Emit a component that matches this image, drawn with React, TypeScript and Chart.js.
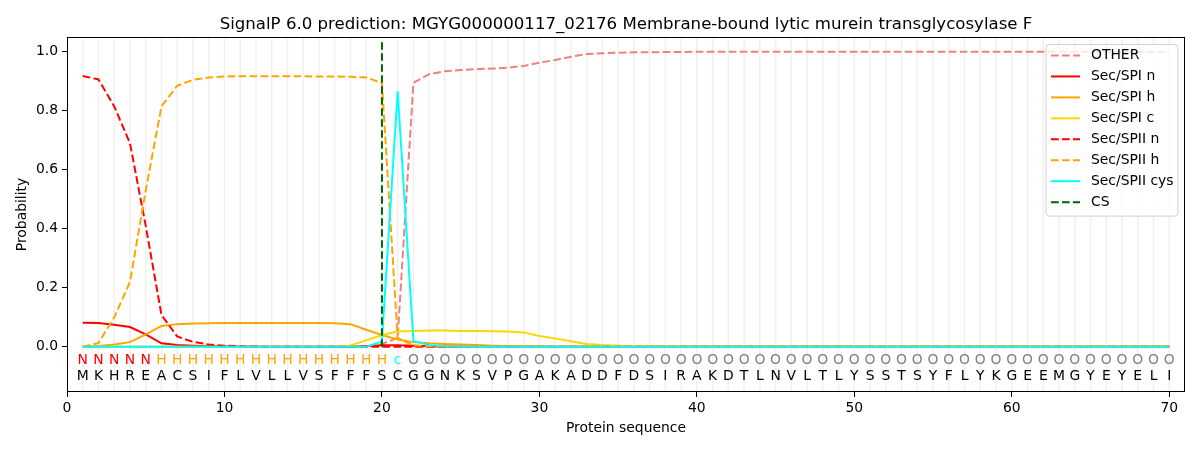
import React, { useEffect, useRef } from 'react';
import { Chart, registerables } from 'chart.js';

Chart.register(...registerables);

const chartTitle = 'SignalP 6.0 prediction: MGYG000000117_02176 Membrane-bound lytic murein transglycosylase F';

const sequence = 'MKHREACSIFLVLLVSFFFSCGGNKSVPGAKADDFDSIRAKDTLNVLTLYSSTSYFLYKGEEMGYEYELI'.split('');
const regionLabels = ('NNNNN' + 'HHHHHHHHHHHHHHH' + 'c' + 'O'.repeat(49)).split('');
const positions = sequence.map((_, i) => i + 1);

const other = [
    0, 0, 0, 0, 0, 0, 0, 0, 0, 0,
    0, 0, 0, 0, 0, 0, 0, 0, 0.003, 0.01,
    0.03, 0.895, 0.924, 0.934, 0.938, 0.941, 0.943, 0.946, 0.952, 0.963,
    0.972, 0.983, 0.992, 0.995, 0.997, 0.998, 0.998, 0.999, 0.999, 1,
    1, 1, 1, 1, 1, 1, 1, 1, 1, 1,
    1, 1, 1, 1, 1, 1, 1, 1, 1, 1,
    1, 1, 1, 1, 1, 1, 1, 1, 1, 1,
];
const spiN = [
    0.082, 0.081, 0.075, 0.067, 0.042, 0.012, 0.006, 0.004, 0.002, 0.001,
    0, 0, 0, 0, 0, 0, 0, 0, 0.002, 0.005,
    0.005, 0.004, 0.002, 0.001, 0, 0, 0, 0, 0, 0,
    0, 0, 0, 0, 0, 0, 0, 0, 0, 0,
    0, 0, 0, 0, 0, 0, 0, 0, 0, 0,
    0, 0, 0, 0, 0, 0, 0, 0, 0, 0,
    0, 0, 0, 0, 0, 0, 0, 0, 0, 0,
];
const spiH = [
    0, 0.003, 0.008, 0.016, 0.042, 0.071, 0.077, 0.079, 0.08, 0.081,
    0.081, 0.081, 0.081, 0.081, 0.081, 0.081, 0.08, 0.077, 0.058, 0.04,
    0.025, 0.016, 0.012, 0.01, 0.008, 0.006, 0.004, 0.003, 0.002, 0.001,
    0, 0, 0, 0, 0, 0, 0, 0, 0, 0,
    0, 0, 0, 0, 0, 0, 0, 0, 0, 0,
    0, 0, 0, 0, 0, 0, 0, 0, 0, 0,
    0, 0, 0, 0, 0, 0, 0, 0, 0, 0,
];
const spiC = [
    0, 0, 0, 0, 0, 0, 0, 0, 0, 0,
    0, 0, 0, 0, 0, 0, 0, 0.005, 0.022, 0.04,
    0.052, 0.054, 0.055, 0.055, 0.054, 0.054, 0.053, 0.052, 0.049, 0.037,
    0.028, 0.019, 0.01, 0.006, 0.004, 0.003, 0.002, 0.001, 0, 0,
    0, 0, 0, 0, 0, 0, 0, 0, 0, 0,
    0, 0, 0, 0, 0, 0, 0, 0, 0, 0,
    0, 0, 0, 0, 0, 0, 0, 0, 0, 0,
];
const spiiN = [
    0.918, 0.906, 0.815, 0.69, 0.41, 0.108, 0.035, 0.017, 0.008, 0.004,
    0.002, 0.001, 0, 0, 0, 0, 0, 0, 0, 0,
    0, 0, 0, 0, 0, 0, 0, 0, 0, 0,
    0, 0, 0, 0, 0, 0, 0, 0, 0, 0,
    0, 0, 0, 0, 0, 0, 0, 0, 0, 0,
    0, 0, 0, 0, 0, 0, 0, 0, 0, 0,
    0, 0, 0, 0, 0, 0, 0, 0, 0, 0,
];
const spiiH = [
    0, 0.013, 0.1, 0.22, 0.53, 0.815, 0.885, 0.905, 0.913, 0.916,
    0.917, 0.917, 0.917, 0.917, 0.917, 0.916, 0.916, 0.915, 0.913, 0.894,
    0.03, 0.005, 0.002, 0.001, 0, 0, 0, 0, 0, 0,
    0, 0, 0, 0, 0, 0, 0, 0, 0, 0,
    0, 0, 0, 0, 0, 0, 0, 0, 0, 0,
    0, 0, 0, 0, 0, 0, 0, 0, 0, 0,
    0, 0, 0, 0, 0, 0, 0, 0, 0, 0,
];
const spiiCys = [
    0, 0, 0, 0, 0, 0, 0, 0, 0, 0,
    0, 0, 0, 0, 0, 0, 0, 0, 0, 0.018,
    0.866, 0.02, 0.006, 0.002, 0.001, 0, 0, 0, 0, 0,
    0, 0, 0, 0, 0, 0, 0, 0, 0, 0,
    0, 0, 0, 0, 0, 0, 0, 0, 0, 0,
    0, 0, 0, 0, 0, 0, 0, 0, 0, 0,
    0, 0, 0, 0, 0, 0, 0, 0, 0, 0,
];

const csPosition = 20;
const csTop = 1.04;

const xTicks = [0, 10, 20, 30, 40, 50, 60, 70];
const yTicks = [0, 0.2, 0.4, 0.6, 0.8, 1.0];

const labelColors: Record<string, string> = { N: '#ff0000', H: '#ffa500', c: '#00ffff', O: '#808080' };

const FONT = "'DejaVu Sans', sans-serif";
const DASH = [7.7, 3.3];

const toPoints = (vals: number[]) => vals.map((v, i) => ({ x: positions[i], y: v }));

// light vertical lines at every residue
const residueGrid = {
    id: 'residueGrid',
    beforeDatasetsDraw(chart: any) {
        const { ctx, chartArea, scales } = chart;
        ctx.save();
        ctx.strokeStyle = '#f0f0f0';
        ctx.lineWidth = 1.5;
        positions.forEach((p) => {
            const x = scales.x.getPixelForValue(p);
            ctx.beginPath();
            ctx.moveTo(x, chartArea.top);
            ctx.lineTo(x, chartArea.bottom);
            ctx.stroke();
        });
        ctx.restore();
    },
};

// region letters and amino acids under the curves
const sequenceText = {
    id: 'sequenceText',
    afterDatasetsDraw(chart: any) {
        const { ctx, scales } = chart;
        ctx.save();
        ctx.font = `13.9px ${FONT}`;
        ctx.textAlign = 'center';
        ctx.textBaseline = 'middle';
        const yLab = scales.y.getPixelForValue(-0.047);
        const ySeq = scales.y.getPixelForValue(-0.1);
        positions.forEach((p, i) => {
            const x = scales.x.getPixelForValue(p);
            ctx.fillStyle = labelColors[regionLabels[i]];
            ctx.fillText(regionLabels[i], x, yLab);
            ctx.fillStyle = '#000000';
            ctx.fillText(sequence[i], x, ySeq);
        });
        ctx.restore();
    },
};

const frameTitleLegend = {
    id: 'frameTitleLegend',
    afterDraw(chart: any) {
        const { ctx, chartArea } = chart;
        ctx.save();
        ctx.strokeStyle = '#000000';
        ctx.lineWidth = 1;
        ctx.strokeRect(chartArea.left + 0.5, chartArea.top + 0.5, chartArea.right - chartArea.left - 1, chartArea.bottom - chartArea.top - 1);

        // title centred over the axes
        ctx.font = `16.6px ${FONT}`;
        ctx.fillStyle = '#000000';
        ctx.textAlign = 'center';
        ctx.textBaseline = 'alphabetic';
        ctx.fillText(chartTitle, (chartArea.left + chartArea.right) / 2, chartArea.top - 8.5);

        const items = chart.data.datasets;
        const w = 132;
        const rowH = 20.95;
        const h = items.length * rowH + 4;
        const x0 = chartArea.right - 7 - w;
        const y0 = chartArea.top + 7.5;
        ctx.beginPath();
        ctx.roundRect(x0, y0, w, h, 3);
        ctx.fillStyle = 'rgba(255,255,255,0.8)';
        ctx.fill();
        ctx.strokeStyle = '#d0d0d0';
        ctx.stroke();

        ctx.font = `13.9px ${FONT}`;
        ctx.textBaseline = 'middle';
        ctx.textAlign = 'left';
        items.forEach((ds: any, i: number) => {
            const cy = y0 + 11 + i * rowH;
            ctx.beginPath();
            ctx.setLineDash(ds.borderDash || []);
            ctx.strokeStyle = ds.borderColor;
            ctx.lineWidth = 2;
            ctx.moveTo(x0 + 5, cy);
            ctx.lineTo(x0 + 34, cy);
            ctx.stroke();
            ctx.setLineDash([]);
            ctx.fillStyle = '#000000';
            ctx.fillText(ds.label, x0 + 45, cy);
        });
        ctx.restore();
    },
};

const App: React.FC = () => {
    const canvasRef = useRef<HTMLCanvasElement | null>(null);
    const chartRef = useRef<Chart | null>(null);

    useEffect(() => {
        document.body.style.margin = '0';
        const canvas = canvasRef.current;
        if (!canvas) return;

        const line = (label: string, vals: number[], color: string, dashed: boolean) => ({
            label,
            data: toPoints(vals),
            borderColor: color,
            backgroundColor: color,
            borderWidth: 2,
            borderDash: dashed ? DASH : [],
            pointRadius: 0,
            tension: 0,
            fill: false,
        });

        const datasets: any[] = [
            line('OTHER', other, '#f08080', true),
            line('Sec/SPI n', spiN, '#ff0000', false),
            line('Sec/SPI h', spiH, '#ffa500', false),
            line('Sec/SPI c', spiC, '#ffd700', false),
            line('Sec/SPII n', spiiN, '#ff0000', true),
            line('Sec/SPII h', spiiH, '#ffa500', true),
            line('Sec/SPII cys', spiiCys, '#00ffff', false),
            {
                label: 'CS',
                data: [{ x: csPosition, y: 0 }, { x: csPosition, y: csTop }],
                borderColor: '#006400',
                borderWidth: 2,
                borderDash: DASH,
                pointRadius: 0,
                fill: false,
            },
        ];
        // later series on top, like the original
        datasets.forEach((d, i) => { d.order = datasets.length - i; });

        if (chartRef.current) chartRef.current.destroy();
        chartRef.current = new Chart(canvas, {
            type: 'line',
            data: { datasets },
            options: {
                animation: false,
                responsive: false,
                devicePixelRatio: 1,
                layout: { padding: { left: 0, right: 15, top: 37, bottom: 0 } },
                font: { family: FONT },
                plugins: {
                    legend: { display: false },
                    tooltip: { enabled: false },
                    title: { display: false },
                },
                scales: {
                    x: {
                        type: 'linear',
                        min: 0,
                        max: 71,
                        afterBuildTicks: (s: any) => { s.ticks = xTicks.map((v) => ({ value: v })); },
                        afterFit: (s: any) => { s.height = 58; },
                        grid: { display: true, drawOnChartArea: false, tickLength: 5, color: '#000000' },
                        border: { display: false },
                        ticks: { color: '#000000', font: { family: FONT, size: 13.9 }, padding: 3, maxRotation: 0 },
                        title: {
                            display: true,
                            text: 'Protein sequence',
                            color: '#000000',
                            font: { family: FONT, size: 13.9 },
                            padding: { top: 0, bottom: 13.6 },
                        },
                    },
                    y: {
                        type: 'linear',
                        min: -0.153,
                        max: 1.05,
                        afterBuildTicks: (s: any) => { s.ticks = yTicks.map((v) => ({ value: v })); },
                        afterFit: (s: any) => { s.width = 67; },
                        grid: { display: true, drawOnChartArea: false, tickLength: 5, color: '#000000' },
                        border: { display: false },
                        ticks: {
                            color: '#000000',
                            font: { family: FONT, size: 13.9 },
                            padding: 4,
                            callback: (v: any) => Number(v).toFixed(1),
                        },
                        title: {
                            display: true,
                            text: 'Probability',
                            color: '#000000',
                            font: { family: FONT, size: 13.9 },
                            padding: { top: 13.6, bottom: 0 },
                        },
                    },
                },
            } as any,
            plugins: [residueGrid, sequenceText, frameTitleLegend],
        });

        return () => {
            if (chartRef.current) {
                chartRef.current.destroy();
                chartRef.current = null;
            }
        };
    }, []);

    return (
        <div style={{ width: 1200, height: 450, background: '#ffffff' }}>
            <canvas ref={canvasRef} width={1200} height={450} />
        </div>
    );
};

export default App;
